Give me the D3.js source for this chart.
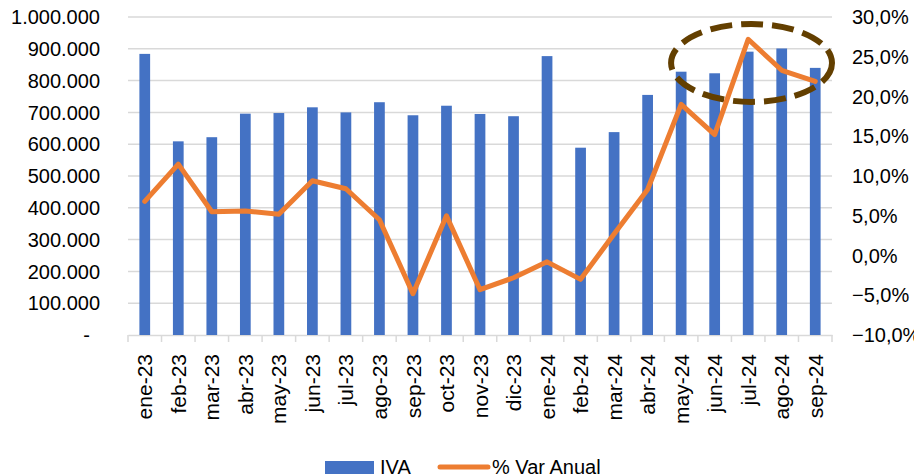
<!DOCTYPE html>
<html>
<head>
<meta charset="utf-8">
<script src="https://cdn.jsdelivr.net/npm/d3@7"></script>
<style>
  body { margin: 0; background: #fff; }
  svg text { font-family: "Liberation Sans", Arial, sans-serif; fill: #000; }
</style>
</head>
<body>
<svg id="iva-chart" width="914" height="476"></svg>
<script>
var months = ["ene-23","feb-23","mar-23","abr-23","may-23","jun-23","jul-23","ago-23","sep-23","oct-23","nov-23","dic-23",
              "ene-24","feb-24","mar-24","abr-24","may-24","jun-24","jul-24","ago-24","sep-24"];
var iva = [884000, 609000, 622000, 696000, 698000, 716000, 700000, 732000, 691000, 721000, 695000, 688000,
           877000, 589000, 638000, 755000, 828000, 823000, 891000, 901000, 840000];
var varAnual = [6.8, 11.5, 5.5, 5.6, 5.2, 9.4, 8.4, 4.5, -4.8, 5.0, -4.3, -2.8,
                -0.8, -3.0, 2.7, 8.3, 19.0, 15.2, 27.2, 23.3, 21.9];
var leftTicks = [0, 100000, 200000, 300000, 400000, 500000, 600000, 700000, 800000, 900000, 1000000];
var rightTicks = [-10, -5, 0, 5, 10, 15, 20, 25, 30];
// highlighted zone (dashed ellipse)
var highlight = { from: "may-24", to: "sep-24", hi: 978000, lo: 733000 };

var svg = d3.select("#iva-chart"),
    margin = {top: 17, left: 128, right: 832, bottom: 335};

var x = d3.scaleBand().domain(months).range([margin.left, margin.right]),
    yL = d3.scaleLinear().domain([0, 1000000]).range([margin.bottom, margin.top]),
    yR = d3.scaleLinear().domain([-10, 30]).range([margin.bottom, margin.top]);

var fmtL = function(d) {
  return d === 0 ? "-" : d3.format(",")(d).replace(/,/g, ".");
};
var fmtR = function(d) {
  return d3.format(".1f")(d).replace(".", ",") + "%";
};

// gridlines
svg.append("g")
  .selectAll("line")
  .data(leftTicks.slice(1))
  .enter().append("line")
    .attr("x1", margin.left)
    .attr("x2", margin.right)
    .attr("y1", function(d) { return yL(d); })
    .attr("y2", function(d) { return yL(d); })
    .attr("stroke", "#d9d9d9")
    .attr("stroke-width", 1.5);

// bottom axis
var xAxis = svg.append("g")
  .attr("transform", "translate(0," + margin.bottom + ")")
  .call(d3.axisBottom(x).tickSize(0).tickPadding(0).tickFormat(""));
xAxis.select(".domain").attr("stroke", "#d9d9d9").attr("stroke-width", 1.5);
xAxis.selectAll(".tick").remove();

svg.append("g")
  .selectAll("line")
  .data(months.concat(["end"]))
  .enter().append("line")
    .attr("x1", function(d, i) { return i < months.length ? x(d) : margin.right; })
    .attr("x2", function(d, i) { return i < months.length ? x(d) : margin.right; })
    .attr("y1", margin.bottom)
    .attr("y2", margin.bottom + 7)
    .attr("stroke", "#d9d9d9")
    .attr("stroke-width", 1.5);

svg.append("g")
  .selectAll("text")
  .data(months)
  .enter().append("text")
    .attr("transform", function(d) {
      return "translate(" + (x(d) + x.bandwidth() / 2) + "," + (margin.bottom + 19) + ") rotate(-90)";
    })
    .attr("dy", "0.36em")
    .attr("text-anchor", "end")
    .style("font-size", "21px")
    .text(function(d) { return d; });

// left labels
svg.append("g")
  .selectAll("text")
  .data(leftTicks)
  .enter().append("text")
    .attr("x", function(d) { return d === 0 ? 90 : 100; })
    .attr("y", function(d) { return yL(d); })
    .attr("dy", "0.36em")
    .attr("text-anchor", "end")
    .style("font-size", "20px")
    .text(fmtL);

// right labels
svg.append("g")
  .selectAll("text")
  .data(rightTicks)
  .enter().append("text")
    .attr("x", 852)
    .attr("y", function(d) { return yR(d); })
    .attr("dy", "0.36em")
    .attr("text-anchor", "start")
    .style("font-size", "20px")
    .text(fmtR);

// bars
var bw = x.bandwidth() * 0.32;
svg.append("g")
  .selectAll("rect")
  .data(iva)
  .enter().append("rect")
    .attr("x", function(d, i) { return x(months[i]) + (x.bandwidth() - bw) / 2; })
    .attr("y", function(d) { return yL(d); })
    .attr("width", bw)
    .attr("height", function(d) { return yL(0) - yL(d); })
    .attr("fill", "#4472c4");

// highlight ellipse
var ex0 = x(highlight.from) + x.bandwidth() * 0.2,
    ex1 = x(highlight.to) + x.bandwidth();
svg.append("ellipse")
  .attr("cx", (ex0 + ex1) / 2)
  .attr("cy", (yL(highlight.hi) + yL(highlight.lo)) / 2)
  .attr("rx", (ex1 - ex0) / 2)
  .attr("ry", (yL(highlight.lo) - yL(highlight.hi)) / 2)
  .attr("fill", "none")
  .attr("stroke", "#633f00")
  .attr("stroke-width", 6)
  .attr("stroke-dasharray", "22 9");

// line
var line = d3.line()
  .x(function(d, i) { return x(months[i]) + x.bandwidth() / 2; })
  .y(function(d) { return yR(d); });

svg.append("path")
  .datum(varAnual)
  .attr("d", line)
  .attr("fill", "none")
  .attr("stroke", "#ed7d31")
  .attr("stroke-width", 5)
  .attr("stroke-linejoin", "round")
  .attr("stroke-linecap", "round");

// legend
var legend = svg.append("g");
legend.append("rect")
  .attr("x", 325).attr("y", 461)
  .attr("width", 49).attr("height", 13)
  .attr("fill", "#4472c4");
legend.append("text")
  .attr("x", 380).attr("y", 467).attr("dy", "0.36em")
  .style("font-size", "20px")
  .text("IVA");
legend.append("line")
  .attr("x1", 440).attr("x2", 488)
  .attr("y1", 467).attr("y2", 467)
  .attr("stroke", "#ed7d31")
  .attr("stroke-width", 5)
  .attr("stroke-linecap", "round");
legend.append("text")
  .attr("x", 492).attr("y", 467).attr("dy", "0.36em")
  .style("font-size", "20px")
  .text("% Var Anual");
</script>
</body>
</html>
